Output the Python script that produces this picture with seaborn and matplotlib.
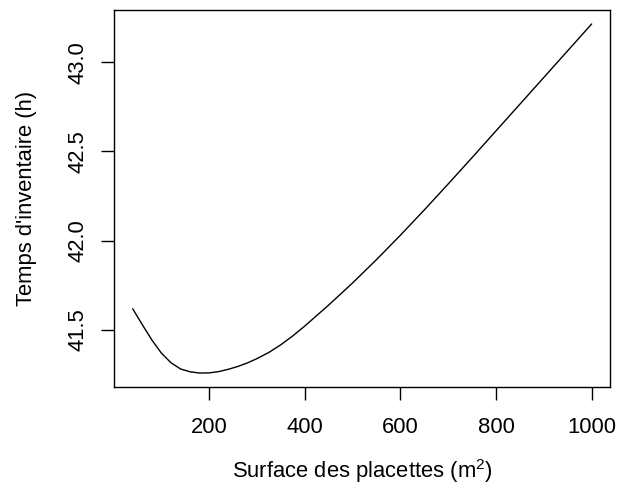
import numpy as np
import pandas as pd
import matplotlib
matplotlib.use("Agg")
import matplotlib.pyplot as plt
import seaborn as sns

# Surface des placettes (m2) et temps d'inventaire (h)
surface = [40, 60, 80, 100, 120, 140, 160, 180, 200, 220, 240, 260, 280,
           300, 325, 350, 375, 400, 450, 500, 550, 600, 650, 700, 750, 800,
           850, 900, 950, 1000]
temps = [41.617, 41.528, 41.442, 41.368, 41.314, 41.279, 41.263, 41.256,
         41.257, 41.264, 41.277, 41.293, 41.313, 41.337, 41.372, 41.415,
         41.465, 41.520, 41.638, 41.762, 41.893, 42.030, 42.172, 42.318,
         42.466, 42.616, 42.766, 42.916, 43.066, 43.216]

x_ticks = [200, 400, 600, 800, 1000]
y_ticks = [41.5, 42.0, 42.5, 43.0]

df = pd.DataFrame({"surface": surface, "temps": temps})

sns.set_style("white")
plt.rcParams["font.family"] = ["Liberation Sans", "DejaVu Sans"]
plt.rcParams["mathtext.fontset"] = "custom"
plt.rcParams["mathtext.rm"] = "Liberation Sans"
plt.rcParams["mathtext.it"] = "Liberation Sans:italic"
plt.rcParams["text.color"] = "black"
plt.rcParams["axes.labelcolor"] = "black"

fig = plt.figure(figsize=(6.19, 4.93), dpi=100)
ax = fig.add_axes([0.1847, 0.215, 0.9855 - 0.1847, 0.9797 - 0.215])

sns.lineplot(data=df, x="surface", y="temps", color="black", linewidth=1.0,
             sort=False, estimator=None, ax=ax)

# Marges comme dans R (4 %)
xr = max(surface) - min(surface)
yr = max(temps) - min(temps)
ax.set_xlim(min(surface) - 0.04 * xr, max(surface) + 0.04 * xr)
ax.set_ylim(min(temps) - 0.04 * yr, max(temps) + 0.04 * yr)

ax.set_xticks(x_ticks)
ax.set_xticklabels([str(t) for t in x_ticks])
ax.set_yticks(y_ticks)
ax.set_yticklabels([f"{t:.1f}" for t in y_ticks], rotation=90, va="center")

ax.tick_params(axis="both", direction="out", length=9.5, width=1.0,
               colors="black", labelsize=15.8, bottom=True, left=True)
ax.tick_params(axis="x", pad=12)
ax.tick_params(axis="y", pad=9)

for s in ax.spines.values():
    s.set_visible(True)
    s.set_color("black")
    s.set_linewidth(1.0)

ax.set_xlabel(r"Surface des placettes (m$^{2}$)", fontsize=15.8, labelpad=14)
ax.set_ylabel("Temps d'inventaire (h)", fontsize=15.8, labelpad=22)

fig.savefig("out.png", dpi=100)
